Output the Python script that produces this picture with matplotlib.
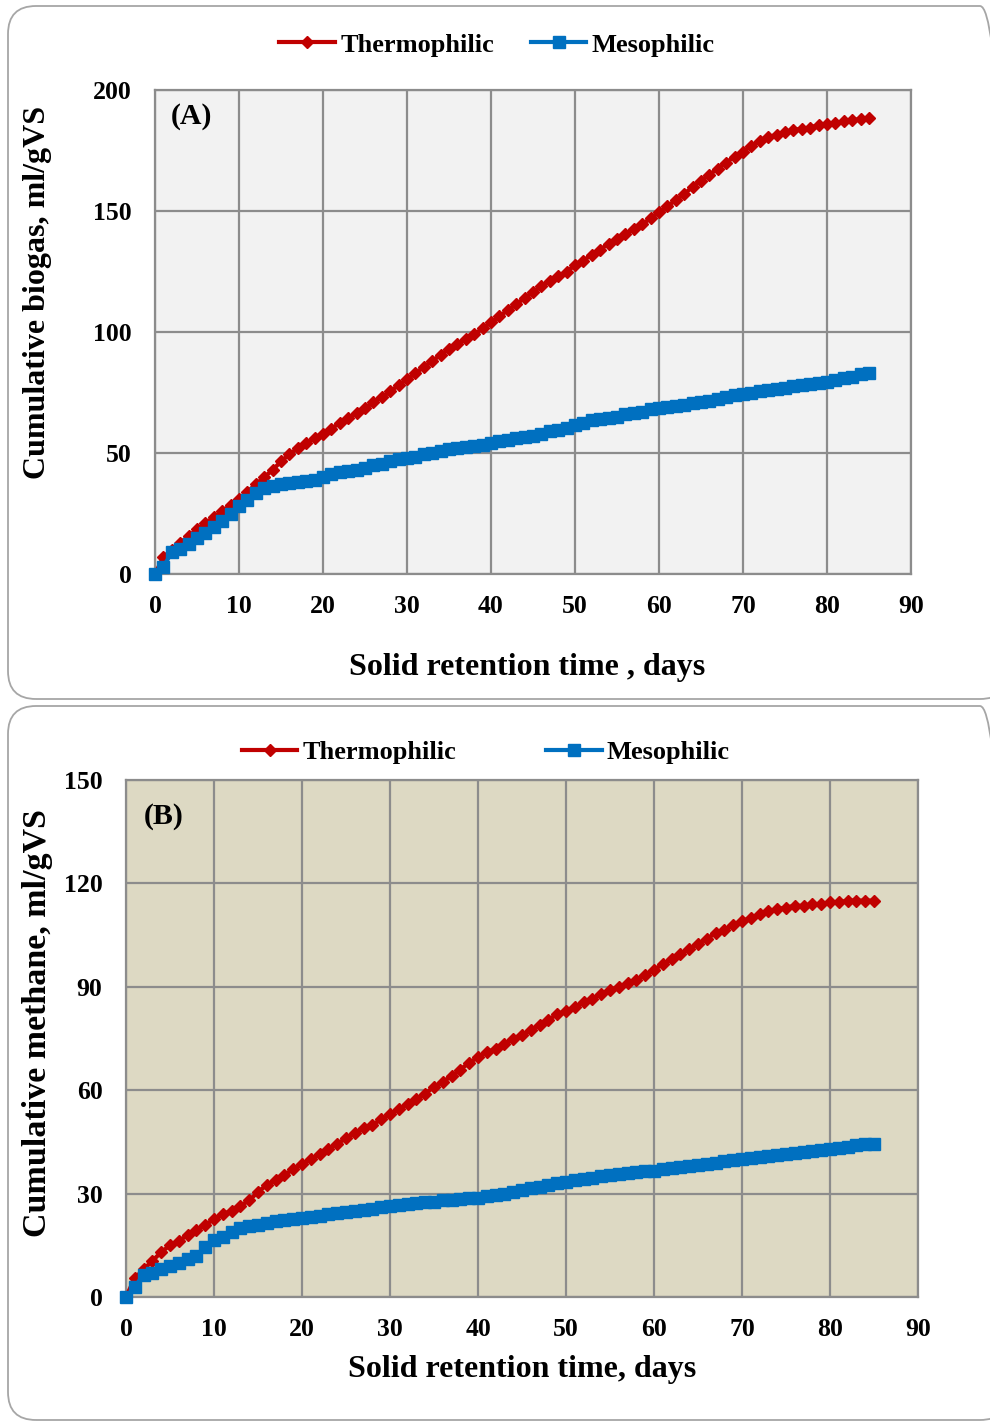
import matplotlib
matplotlib.use("Agg")
import matplotlib.pyplot as plt
from matplotlib.patches import FancyBboxPatch
from matplotlib.transforms import IdentityTransform

plt.rcParams['font.family'] = ['Liberation Serif', 'DejaVu Serif']
plt.rcParams['font.weight'] = 'bold'

days = list(range(86))

# (A) cumulative biogas, ml/gVS
biogas_thermo = [0, 7, 10, 13, 15.5, 18.5, 21, 23.5, 26, 28.5, 31,
                 34, 37, 40, 43, 46.5, 49.5, 52, 54, 56, 58,
                 60, 62.5, 64.5, 66.5, 68.5, 71, 73, 75.5, 78, 80.5,
                 83, 85.5, 88, 90.5, 93, 95, 97, 99, 101.5, 104,
                 106.5, 109, 111.5, 114, 116.5, 119, 121, 123, 125, 127.5,
                 129.5, 132, 134, 136.5, 138.5, 140.5, 142.5, 144.5, 147, 149.5,
                 152, 154.5, 157, 160, 162.5, 165, 167.5, 170, 172.5, 174.5,
                 177, 179, 180.5, 181.5, 182.5, 183.5, 184, 184.5, 185.5, 186,
                 186.5, 187, 187.5, 188, 188.5]
biogas_meso = [0, 3, 9, 10.5, 12.5, 15, 17, 19.5, 22, 25, 28,
               30.5, 33.5, 35.5, 36.5, 37, 37.5, 38, 38.5, 39, 40,
               41.5, 42, 42.5, 43, 44, 45, 45.5, 46.5, 47.5, 48,
               48.5, 49.5, 50, 51, 51.5, 52, 52.5, 53, 53.5, 54,
               55, 55.5, 56, 56.5, 57, 58, 59, 59.5, 60.5, 61.5,
               62.5, 63.5, 64, 64.5, 65, 66, 66.5, 67, 68, 68.5,
               69, 69.5, 70, 70.5, 71, 71.5, 72.5, 73, 74, 74.5,
               75, 75.5, 76, 76.5, 77, 77.5, 78, 78.5, 79, 79.5,
               80, 81, 81.5, 82.5, 83]

# (B) cumulative methane, ml/gVS
methane_thermo = [0, 5.5, 8, 10.5, 13, 15, 16.2, 18, 19.5, 21, 22.5,
                  24, 25, 26.5, 28, 30.5, 32.5, 34, 35.5, 37, 38.5,
                  40, 41.5, 43, 44.5, 46, 47.5, 49, 50, 51.5, 53,
                  54.5, 56, 57.5, 59, 61, 62.5, 64, 66, 68, 69.5,
                  71, 72, 73.5, 75, 76, 77.5, 79, 80.5, 82, 83,
                  84, 85.5, 86.5, 88, 89, 90, 91, 92, 93.5, 95,
                  96.5, 98, 99.5, 101, 102.5, 104, 105.5, 106.5, 108, 109,
                  110, 111, 112, 112.5, 113, 113.5, 113.5, 114, 114, 114.5,
                  114.5, 115, 115, 115, 115]
methane_meso = [0, 3, 6.5, 7, 8, 9, 10, 11, 12, 14.5, 16.5,
                17.5, 19, 20, 20.5, 21, 21.5, 22, 22.3, 22.7, 23,
                23.3, 23.6, 24, 24.3, 24.6, 25, 25.3, 25.6, 26, 26.3,
                26.6, 26.9, 27.2, 27.5, 27.7, 28, 28.2, 28.4, 28.6, 28.8,
                29.2, 29.6, 30, 30.5, 31, 31.5, 32, 32.5, 33, 33.5,
                34, 34.3, 34.6, 35, 35.3, 35.6, 35.9, 36.2, 36.5, 36.7,
                37, 37.3, 37.6, 38, 38.3, 38.7, 39, 39.4, 39.8, 40.1,
                40.4, 40.7, 41, 41.2, 41.5, 41.8, 42, 42.3, 42.6, 42.9,
                43.3, 43.6, 44, 44.3, 44.5]

RED = '#C00000'
BLUE = '#0070C0'
GRID = '#8C8C8C'
H = 1423

fig = plt.figure(figsize=(9.9, 14.23), dpi=100)

# rounded panel frames (pixel coords, origin bottom left)
for x0, y0, w, h in [(8, H - 699, 1000, 693), (8, 3, 1000, 714)]:
    fig.add_artist(FancyBboxPatch((x0, y0), w, h,
                                  boxstyle="round,pad=0,rounding_size=28",
                                  transform=IdentityTransform(),
                                  facecolor='none', edgecolor='#A6A6A6', lw=1.3))


def panel(rect, thermo, meso, ymax, ystep, bg, tag, tag_xy, ylabel, ylab_xy, ylab_fs,
          xlabel, xlab_xy, legpos, colsp):
    ax = fig.add_axes(rect)
    ax.set_facecolor(bg)
    ax.plot(days, thermo, color=RED, lw=3, marker='D', ms=6.5,
            mec=RED, mfc=RED, label='Thermophilic', zorder=3)
    ax.plot(days, meso, color=BLUE, lw=3, marker='s', ms=8.5,
            mec=BLUE, mfc=BLUE, label='Mesophilic', zorder=3, clip_on=False)
    ax.set_xlim(0, 90)
    ax.set_ylim(0, ymax)
    ax.set_xticks(range(0, 91, 10))
    ax.set_yticks(range(0, ymax + 1, ystep))
    ax.grid(True, color=GRID, lw=1.6)
    ax.set_axisbelow(True)
    for s in ax.spines.values():
        s.set_color(GRID)
        s.set_linewidth(1.6)
    ax.tick_params(length=0, labelsize=18.5, pad=15)
    ax.tick_params(axis='y', pad=17)
    fig.text(xlab_xy[0] / 990, 1 - xlab_xy[1] / H, xlabel, fontsize=23,
             fontweight='bold', ha='center', va='center')
    fig.text(ylab_xy[0] / 990, 1 - ylab_xy[1] / H, ylabel, fontsize=ylab_fs,
             fontweight='bold', ha='center', va='center', rotation=90)
    fig.text(tag_xy[0] / 990, 1 - tag_xy[1] / H, tag, fontsize=21.5,
             fontweight='bold', va='center', ha='left')
    fig.legend(*ax.get_legend_handles_labels(), loc='center', ncol=2,
               bbox_to_anchor=legpos, frameon=False, fontsize=19,
               handlelength=2.1, handletextpad=0.2, columnspacing=colsp)
    return ax


panel([155 / 990, 1 - 574 / H, 756 / 990, 484 / H],
      biogas_thermo, biogas_meso, 200, 50, '#F2F2F2', '(A)', (171, 116),
      'Cumulative biogas, ml/gVS', (38, 292), 23,
      'Solid retention time , days', (527, 668),
      (497 / 990, 1 - 45 / H), 1.4)
panel([126 / 990, 1 - 1297 / H, 792 / 990, 517 / H],
      methane_thermo, methane_meso, 150, 30, '#DDD9C3', '(B)', (144, 817),
      'Cumulative methane, ml/gVS', (38, 1023), 24.5,
      'Solid retention time, days', (522, 1370),
      (486 / 990, 1 - 752 / H), 3.4)

fig.savefig('out.png', dpi=100)
